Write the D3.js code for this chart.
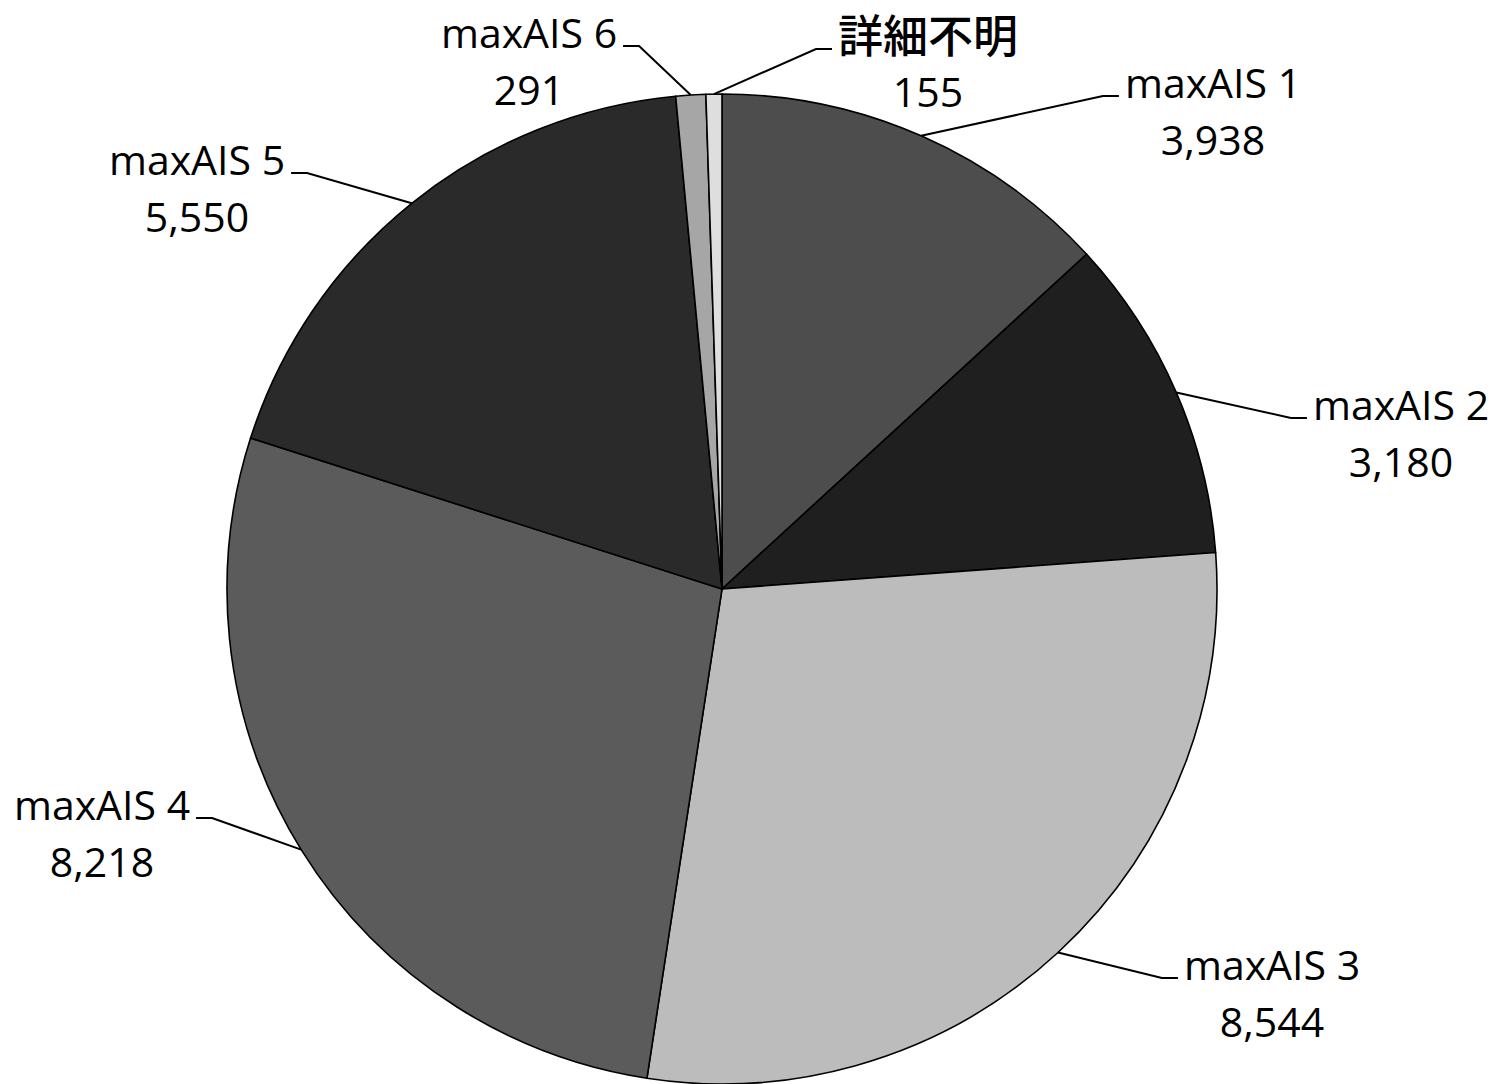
<!DOCTYPE html>
<html>
<head>
<meta charset="utf-8">
<script src="https://cdn.jsdelivr.net/npm/d3@7"></script>
<style>
  html, body { margin: 0; padding: 0; background: #ffffff; }
  svg { display: block; }
</style>
</head>
<body>
<svg id="chart" width="1501" height="1084"></svg>
<script>
// ---- data ----
const categories = ["maxAIS 1", "maxAIS 2", "maxAIS 3", "maxAIS 4", "maxAIS 5", "maxAIS 6", "詳細不明"];
const values = [3938, 3180, 8544, 8218, 5550, 291, 155];
const sliceColors = ["#4d4d4d", "#1f1f1f", "#bcbcbc", "#5b5b5b", "#2a2a2a", "#a6a6a6", "#dedede"];

// ---- layout (label anchor offsets from pie centre: x centre, first-line baseline) ----
const labelOffsets = [[491, -491], [679, -169], [550, 391], [-620, 231], [-525, -414], [-193, -541], [206, -536]];

const W = 1501, H = 1084;
const cx = 722, cy = 589, R = 495;
const lineGap = 57;
const fmt = d3.format(",");

const svg = d3.select("#chart");
const g = svg.append("g").attr("transform", `translate(${cx},${cy})`);

const data = categories.map((c, i) => ({ name: c, value: values[i], color: sliceColors[i], off: labelOffsets[i] }));

const pie = d3.pie().value(d => d.value).sort(null).startAngle(0).endAngle(2 * Math.PI);
const arcs = pie(data);
const arc = d3.arc().innerRadius(0).outerRadius(R);

g.selectAll("path.slice")
  .data(arcs)
  .enter().append("path")
  .attr("class", "slice")
  .attr("d", arc)
  .attr("fill", d => d.data.color)
  .attr("stroke", "#000")
  .attr("stroke-width", 1.6)
  .attr("stroke-linejoin", "round");

// labels
const labels = g.selectAll("g.lab")
  .data(arcs)
  .enter().append("g")
  .attr("class", "lab");

labels.each(function(d) {
  const sel = d3.select(this);
  const [ox, oy] = d.data.off;
  const isCJK = /[^\x00-\x7F]/.test(d.data.name);
  const t1 = sel.append("text")
    .attr("x", ox).attr("y", oy)
    .attr("text-anchor", "middle")
    .attr("font-family", isCJK ? "'Noto Sans CJK JP', sans-serif" : "'Open Sans', sans-serif")
    .attr("font-size", isCJK ? 45 : 41)
    .attr("font-weight", isCJK ? 500 : 400)
    .attr("fill", "#000")
    .text(d.data.name);
  sel.append("text")
    .attr("x", ox).attr("y", oy + (isCJK ? lineGap - 3 : lineGap))
    .attr("text-anchor", "middle")
    .attr("font-family", "'Open Sans', sans-serif")
    .attr("font-size", 41)
    .attr("fill", "#000")
    .text(fmt(d.data.value));

  const bb = t1.node().getBBox();
  const mid = (d.startAngle + d.endAngle) / 2;
  const px = R * Math.sin(mid), py = -R * Math.cos(mid);
  const ly = oy - (isCJK ? 4 : 2);
  let hx1, hx2;
  if (ox > 0) { hx1 = bb.x - 6; hx2 = hx1 - 16; }
  else { hx1 = bb.x + bb.width + 6; hx2 = hx1 + 16; }
  sel.append("polyline")
    .attr("points", `${hx1},${ly} ${hx2},${ly} ${px},${py}`)
    .attr("fill", "none")
    .attr("stroke", "#000")
    .attr("stroke-width", 2);
});
</script>
</body>
</html>
